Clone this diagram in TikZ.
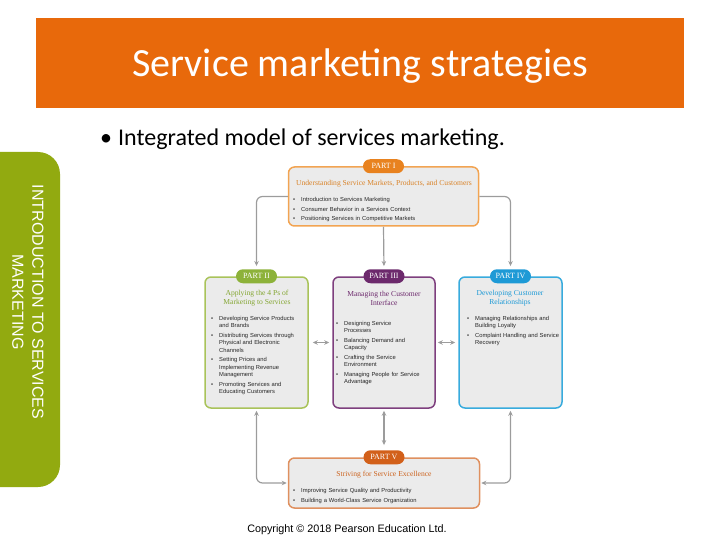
\documentclass[tikz,border=0pt]{standalone}
\usepackage{fontspec}
\setmainfont{Liberation Sans}
\newfontfamily\calfont{Carlito}
\newfontfamily\serfont{Liberation Serif}
\usetikzlibrary{arrows.meta, positioning}

\definecolor{barorange}{HTML}{E8690B}
\definecolor{sidegreen}{HTML}{92AA10}
\definecolor{boxfill}{HTML}{EBEBEB}
\definecolor{linegray}{HTML}{9C9C9C}
\definecolor{oneline}{HTML}{F2A452}
\definecolor{onetab}{HTML}{E8821F}
\definecolor{onehead}{HTML}{D98329}
\definecolor{twoline}{HTML}{A9C35A}
\definecolor{twotab}{HTML}{8DB23A}
\definecolor{twohead}{HTML}{84A632}
\definecolor{threeline}{HTML}{7E3F7E}
\definecolor{threetab}{HTML}{6C296C}
\definecolor{fourline}{HTML}{38ABDD}
\definecolor{fourtab}{HTML}{1E9AD6}
\definecolor{fivetab}{HTML}{D2601A}
\definecolor{fivehead}{HTML}{CC6420}

\newcommand{\itm}[1]{\par\noindent\hangindent=8pt\hangafter=1\makebox[8pt][l]{\textbullet}#1\par}
\newcommand{\nl}{\break}
\newcommand{\listsetup}{\hyphenpenalty=10000\relax\setlength{\parskip}{2pt}}

\tikzset{
  partbox/.style={draw=#1, line width=1.5pt, fill=boxfill, rounded corners=6pt, inner sep=0pt},
  parttab/.style={fill=#1, rounded corners=7pt, text=white, font=\serfont\fontsize{8}{9}\selectfont, minimum width=41pt, minimum height=14pt, inner sep=0pt},
  parthead/.style={text=#1, align=center, font=\serfont\fontsize{7.6}{9}\selectfont, inner sep=0pt},
  bullets/.style={anchor=north west, text width=#1, align=left, inner sep=0pt, text=black!85, font=\fontsize{5.8}{7.5}\selectfont\listsetup},
  conn/.style={draw=linegray, line width=1.2pt, rounded corners=6pt},
  tip/.tip={Stealth[length=5pt, width=4.5pt]}
}

\begin{document}
\begin{tikzpicture} [x=1pt, y=-1pt]
    \useasboundingbox (0,0) rectangle (720,540);
    % title bar and side tab
    \node (bar) [fill=barorange, minimum width=648, minimum height=90, inner sep=0pt] at (360,63) {};
    \node (title) [text=white, font=\calfont\fontsize{40}{48}\selectfont] at (360,66) {Service marketing strategies};
    \node (sub) [anchor=west, inner sep=0pt, font=\calfont\fontsize{24}{28}\selectfont] at (100,139) {\makebox[18pt][l]{\textbullet}Integrated model of services marketing.};
    \fill [sidegreen, rounded corners=22pt] (-40,152) rectangle (60,487);
    \node (side) [rotate=-90, align=center, text=white, font=\fontsize{16}{20}\selectfont] at (28,302) {INTRODUCTION TO SERVICES\\MARKETING};

    % boxes
    \node (p1) [partbox=oneline, minimum width=190, minimum height=59] at (383.5,196.5) {};
    \node (p2) [partbox=twoline, minimum width=103, minimum height=131] at (256.5,342.5) {};
    \node (p3) [partbox=threeline, minimum width=102, minimum height=131] at (384,342.5) {};
    \node (p4) [partbox=fourline, minimum width=103, minimum height=131] at (510.5,342.5) {};
    \node (p5) [partbox=fivetab!70, minimum width=191, minimum height=50] at (384,483) {};

    \node (t1) [parttab=onetab] at (p1.north) {PART I};
    \node (t2) [parttab=twotab] at (p2.north) {PART II};
    \node (t3) [parttab=threetab] at (p3.north) {PART III};
    \node (t4) [parttab=fourtab] at (p4.north) {PART IV};
    \node (t5) [parttab=fivetab] at (p5.north) {PART V};

    \node (h1) [parthead=onehead] at (384,184) {Understanding Service Markets, Products, and Customers};
    \node (h2) [parthead=twohead] at (257,298.5) {Applying the 4 Ps of\\Marketing to Services};
    \node (h3) [parthead=threetab] at (384,298.5) {Managing the Customer\\Interface};
    \node (h4) [parthead=fourtab] at (510,298.5) {Developing Customer\\Relationships};
    \node (h5) [parthead=fivehead] at (384,475) {Striving for Service Excellence};

    \node (b1) [bullets=180] at (293,192) {\itm{Introduction to Services Marketing}\itm{Consumer Behavior in a Services Context}\itm{Positioning Services in Competitive Markets}};
    \node (b2) [bullets=100] at (211,310.5) {\itm{Developing Service Products\nl and Brands}\itm{Distributing Services through\nl Physical and Electronic\nl Channels}\itm{Setting Prices and\nl Implementing Revenue\nl Management}\itm{Promoting Services and\nl Educating Customers}};
    \node (b3) [bullets=100] at (336,315.5) {\itm{Designing Service\nl Processes}\itm{Balancing Demand and\nl Capacity}\itm{Crafting the Service\nl Environment}\itm{Managing People for Service\nl Advantage}};
    \node (b4) [bullets=100] at (467,310.5) {\itm{Managing Relationships and\nl Building Loyalty}\itm{Complaint Handling and Service\nl Recovery}};
    \node (b5) [bullets=180] at (293,483) {\itm{Improving Service Quality and Productivity}\itm{Building a World-Class Service Organization}};

    % connectors
    \draw [conn, -tip, shorten >=3pt] (p1.west) -| (t2.north);
    \draw [conn, -tip, shorten >=3pt] (p1.south) -- (t3.north);
    \draw [conn, -tip, shorten >=3pt] (p1.east) -| (t4.north);
    \draw [conn, tip-tip, shorten <=4pt, shorten >=3pt] (p2.east) -- (p3.west);
    \draw [conn, tip-tip, shorten <=2pt, shorten >=3pt] (p3.east) -- (p4.west);
    \draw [conn, tip-tip, shorten <=2pt, shorten >=5pt] (p3.south) -- (t5.north);
    \draw [conn, tip-tip, shorten <=1pt, shorten >=2pt] (p5.west) -| (p2.south);
    \draw [conn, tip-tip, shorten <=1pt, shorten >=2pt] (p5.east) -| (p4.south);

    \node (copy) [font=\fontsize{10.8}{12}\selectfont] at (347,529.5) {Copyright © 2018 Pearson Education Ltd.};
\end{tikzpicture}
\end{document}
